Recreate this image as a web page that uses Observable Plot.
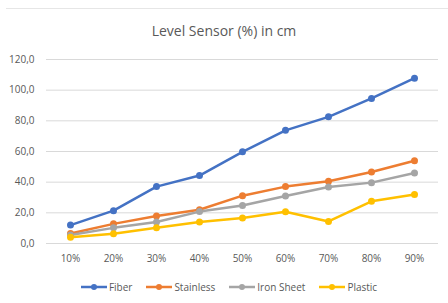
<!DOCTYPE html>
<html><head><meta charset="utf-8">
<script src="https://cdn.jsdelivr.net/npm/d3@7"></script>
<script src="https://cdn.jsdelivr.net/npm/@observablehq/plot@0.6"></script>
<style>
body{margin:0;background:#fff;font-family:"Open Sans",sans-serif;}
#wrap{width:448px;height:303px;position:relative;overflow:hidden;}
#topline{position:absolute;left:6px;right:0;top:8px;border-top:1px solid #e6e6e6;}
#title{height:45px;line-height:20px;padding-top:21px;box-sizing:border-box;text-align:center;font-size:14px;color:#595959;}
#legend{display:flex;justify-content:center;gap:14px;font-size:10px;color:#595959;margin-top:10px;margin-left:10px;}
#legend span{display:flex;align-items:center;gap:2px;}
</style></head>
<body><div id="wrap"><div id="topline"></div><div id="title">Level Sensor (%) in cm</div><div id="chart"></div><div id="legend"></div></div>
<script>
const categories = ["10%","20%","30%","40%","50%","60%","70%","80%","90%"];
const seriesNames = ["Fiber","Stainless","Iron Sheet","Plastic"];
const fiber = [12.0,21.4,37.1,44.3,59.8,73.8,82.6,94.6,107.8];
const stainless = [6.5,12.8,17.9,22.0,31.2,37.1,40.6,46.6,54.0];
const ironSheet = [5.5,10.2,14.0,20.8,24.8,31.0,36.8,39.7,46.0];
const plastic = [4.0,6.3,10.3,14.0,16.6,20.7,14.4,27.5,31.9];
const yTicks = [0,20,40,60,80,100,120];
const colors = ["#4472C4","#ED7D31","#A5A5A5","#FFC000"];

const all = [fiber, stainless, ironSheet, plastic];
const data = [];
seriesNames.forEach((s,i)=>categories.forEach((c,j)=>data.push({series:s,cat:c,value:all[i][j]})));

const chart = Plot.plot({
  width:448, height:225,
  marginTop:14, marginBottom:27, marginLeft:46, marginRight:10,
  style:{fontFamily:"Open Sans, sans-serif", fontSize:"10px", color:"#595959", background:"#fff"},
  x:{type:"point", domain:categories, padding:0.5, label:null},
  y:{domain:[0,120], label:null},
  color:{domain:seriesNames, range:colors},
  marks:[
    Plot.ruleY(yTicks,{stroke:"#d9d9d9", strokeWidth:1}),
    Plot.axisY(yTicks,{tickSize:0, tickPadding:12, tickFormat:d=>d.toFixed(1).replace(".",","), label:null}),
    Plot.axisX({tickSize:0, tickPadding:11, label:null}),
    Plot.line(data,{x:"cat", y:"value", z:"series", stroke:"series", strokeWidth:2.5}),
    Plot.dot(data,{x:"cat", y:"value", fill:"series", r:3.5})
  ]
});
document.getElementById("chart").appendChild(chart);

const leg = document.getElementById("legend");
seriesNames.forEach((s,i)=>{
  const sp = document.createElement("span");
  sp.innerHTML = `<svg width="26" height="10"><line x1="0" x2="26" y1="5" y2="5" stroke="${colors[i]}" stroke-width="2.5"/><circle cx="13" cy="5" r="3" fill="${colors[i]}"/></svg>${s}`;
  leg.appendChild(sp);
});
</script></body></html>
